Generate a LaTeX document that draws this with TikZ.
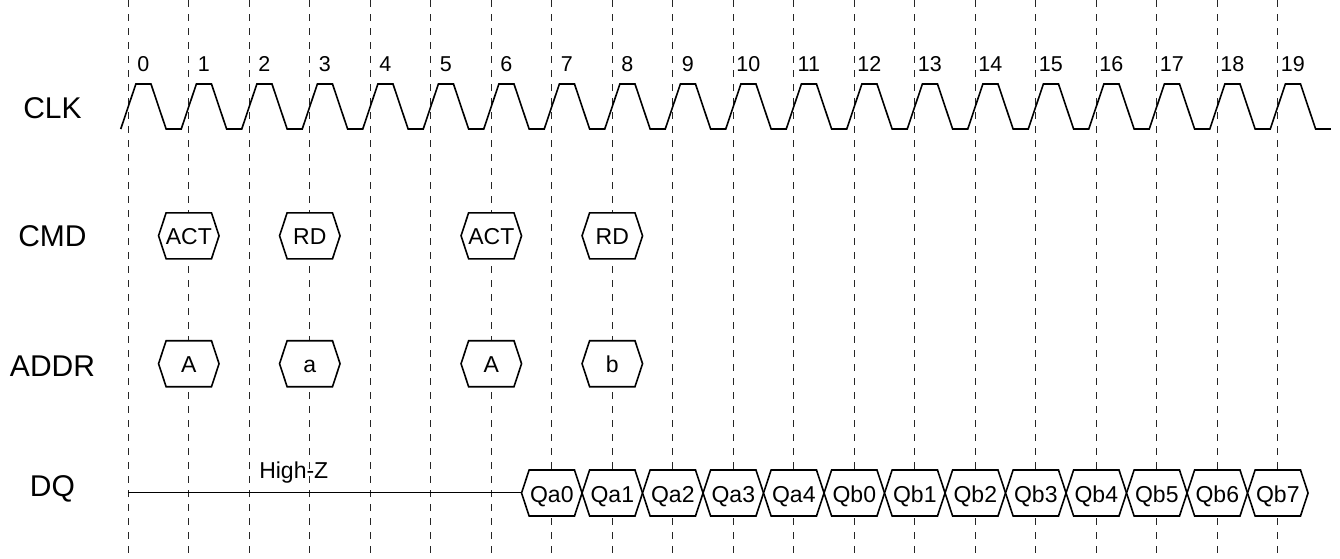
\documentclass[tikz,border=0pt]{standalone}
\usepackage{fontspec}
\setmainfont{Liberation Sans}
\usetikzlibrary{positioning}

\tikzset{
  gridline/.style={black!85, line width=1pt, dash pattern=on 7pt off 7pt},
  wave/.style={black, line width=1.6pt, line join=miter},
  signame/.style={anchor=base, inner sep=0pt, font=\fontsize{30}{36}\selectfont},
  cyclenum/.style={anchor=base, inner sep=0pt, font=\fontsize{21.5}{25}\selectfont},
  busval/.style={anchor=base, inner sep=0pt, font=\fontsize{23}{28}\selectfont}
}

% one value on a bus: name, cycle, centre height, text
\newcommand{\busword}[4]{%
  \draw[wave, fill=white] (#2-0.5,#3) -- (#2-0.375,#3-23) -- (#2+0.375,#3-23)
    -- (#2+0.5,#3) -- (#2+0.375,#3+23) -- (#2-0.375,#3+23) -- cycle;
  \node[busval] (#1) at (#2,#3+9) {#4};}

\begin{document}
\begin{tikzpicture}[x=60.5pt, y=-1pt]
\useasboundingbox (-2.1207,0) rectangle (20.028,558);

% clock edges
\foreach \i in {0,...,19} {
  \draw[gridline] (\i,0) -- (\i,558);
  \node[cyclenum] (n\i) at (\i+0.248,71) {\i};
}

% signal names
\node[signame] (clk)  at (-1.253,118.3) {CLK};
\node[signame] (cmd)  at (-1.253,246.7) {CMD};
\node[signame] (addr) at (-1.253,376.7) {ADDR};
\node[signame] (dq)   at (-1.253,496.5) {DQ};

% clock
\draw[wave] (-0.125,129) \foreach \i in {0,...,19} {
  -- (\i+0.125,84) -- (\i+0.375,84) -- (\i+0.625,129) -- (\i+0.875,129)};

% command bus
\busword{act1}{1}{235.8}{ACT}
\busword{rd1}{3}{235.8}{RD}
\busword{act2}{6}{235.8}{ACT}
\busword{rd2}{8}{235.8}{RD}

% address bus
\busword{row1}{1}{363.7}{A}
\busword{col1}{3}{363.7}{a}
\busword{row2}{6}{363.7}{A}
\busword{col2}{8}{363.7}{b}

% data bus
\coordinate (hz) at (0,492.3);
\coordinate (dqon) at (6.5,492.3);
\draw[wave] (hz) -- (dqon);
\node[busval] (highz) at (2.735,478.3) {High-Z};
\foreach \q [count=\k from 7] in {Qa0,Qa1,Qa2,Qa3,Qa4,Qb0,Qb1,Qb2,Qb3,Qb4,Qb5,Qb6,Qb7} {
  \busword{\q}{\k}{493}{\q}
}

\end{tikzpicture}
\end{document}
